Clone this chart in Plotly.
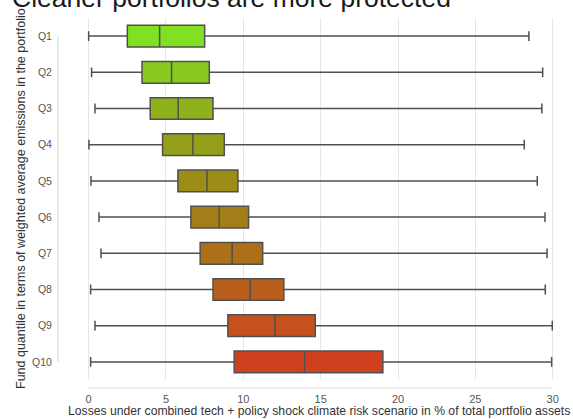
import plotly.graph_objects as go

categories = ["Q1", "Q2", "Q3", "Q4", "Q5", "Q6", "Q7", "Q8", "Q9", "Q10"]
lower_whisker = [0.00, 0.19, 0.41, 0.02, 0.15, 0.67, 0.80, 0.13, 0.41, 0.13]
q1_values = [2.50, 3.45, 3.98, 4.78, 5.77, 6.61, 7.21, 8.04, 9.00, 9.41]
median_values = [4.59, 5.36, 5.79, 6.74, 7.65, 8.44, 9.28, 10.45, 12.04, 13.96]
q3_values = [7.50, 7.80, 8.04, 8.77, 9.65, 10.34, 11.25, 12.62, 14.65, 19.02]
upper_whisker = [28.46, 29.35, 29.30, 28.16, 29.00, 29.50, 29.63, 29.52, 29.97, 29.93]
box_colors = ["#80E021", "#87C91F", "#8EB11C", "#95A01A", "#9C8C18",
              "#A37E18", "#AD7018", "#B8601B", "#C5511D", "#D0401F"]
x_ticks = [0, 5, 10, 15, 20, 25, 30]

title_text = "Cleaner portfolios are more protected"
x_title = "Losses under combined tech + policy shock climate risk scenario in % of total portfolio assets"
y_title = "Fund quantile in terms of weighted average emissions in the portfolio"

FONT = "Liberation Sans, Arial, sans-serif"

fig = go.Figure()
for i, cat in enumerate(categories):
    fig.add_trace(go.Box(
        y=[cat],
        q1=[q1_values[i]],
        median=[median_values[i]],
        q3=[q3_values[i]],
        lowerfence=[lower_whisker[i]],
        upperfence=[upper_whisker[i]],
        orientation="h",
        fillcolor=box_colors[i],
        line=dict(color="rgb(80,80,80)", width=1.5),
        width=0.6,
        whiskerwidth=0.45,
        boxpoints=False,
        showlegend=False,
        hoverinfo="skip",
    ))

W, H = 573, 419
ml, mr, mt, mb = 58, 13, 18, 39
plot_h = H - mt - mb
plot_w = W - ml - mr

fig.update_layout(
    template="none",
    width=W, height=H,
    margin=dict(l=ml, r=mr, t=mt, b=mb, pad=0, autoexpand=False),
    paper_bgcolor="white", plot_bgcolor="white",
    boxmode="overlay",
    hovermode=False,
    font=dict(family=FONT, color="#444"),
    title=dict(text=title_text, font=dict(family=FONT, size=26.5, color="#1a1a1a"),
               xref="container", x=12 / W, xanchor="left",
               yref="container", y=1 - 7 / H, yanchor="bottom", automargin=False),
    xaxis=dict(range=[-1.98, 30.47], tickvals=x_ticks, ticktext=[str(t) for t in x_ticks],
               showgrid=True, gridcolor="#e6e6e6", gridwidth=1, zeroline=False,
               showline=False, ticks="outside", ticklen=9, tickcolor="rgba(0,0,0,0)",
               tickfont=dict(size=11, color="#555"), automargin=False, fixedrange=True),
    yaxis=dict(categoryorder="array", categoryarray=categories, range=[9.5, -0.5],
               showgrid=False, zeroline=False, showline=False,
               ticks="outside", ticklen=3, tickcolor="rgba(0,0,0,0)",
               tickfont=dict(size=10.5, color="#555"), automargin=False, fixedrange=True),
    shapes=[
        dict(type="line", xref="x", yref="paper", x0=0, x1=30,
             y0=-8 / plot_h, y1=-8 / plot_h, line=dict(color="#dcdcdc", width=1.2)),
        dict(type="line", xref="paper", yref="y", x0=0, x1=0,
             y0=0, y1=9, line=dict(color="#dcdcdc", width=1.2)),
    ],
    annotations=[
        dict(text=x_title, xref="paper", yref="paper", x=(319 - ml) / plot_w,
             y=-(411 - (H - mb)) / plot_h, xanchor="center", yanchor="middle",
             showarrow=False, font=dict(family=FONT, size=12.2, color="#333")),
        dict(text=y_title, xref="paper", yref="paper", x=-(ml - 21) / plot_w,
             y=0.5, xanchor="center", yanchor="middle", textangle=-90,
             showarrow=False, font=dict(family=FONT, size=12.5, color="#333")),
    ],
)

fig.write_html(
    "out.html",
    config={"displayModeBar": False, "staticPlot": True},
    post_script="document.body.style.margin='0';document.body.style.overflow='hidden';",
)
